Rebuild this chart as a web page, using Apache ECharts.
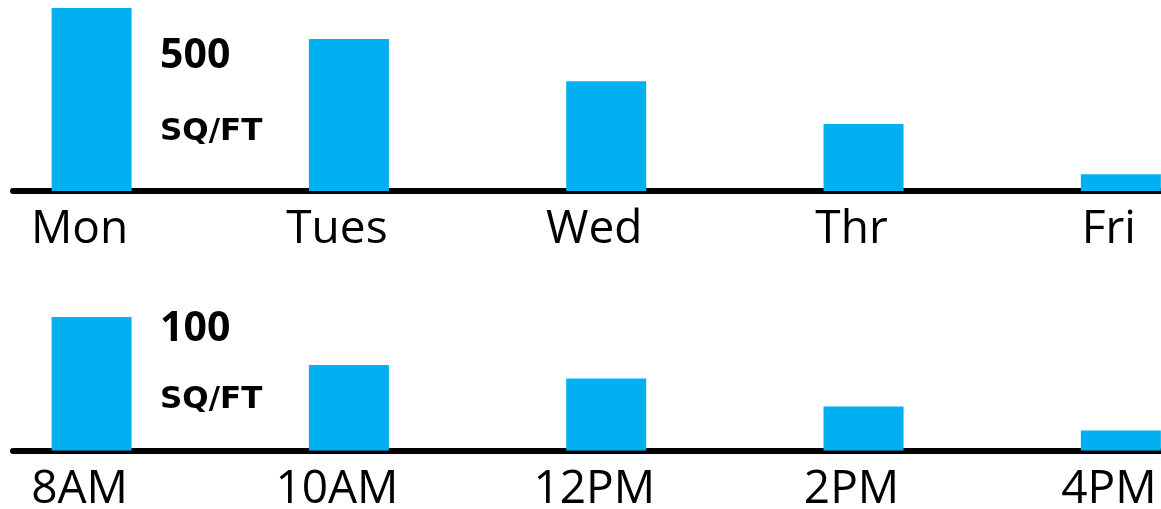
<!DOCTYPE html>
<html>
<head>
<meta charset="utf-8">
<script src="https://cdn.jsdelivr.net/npm/echarts@6/dist/echarts.min.js"></script>
<style>
  html, body { margin: 0; padding: 0; background: #fff; }
  #main { width: 1161px; height: 509px; }
</style>
</head>
<body>
<div id="main"></div>
<script>
// 数据
var days = ['Mon', 'Tues', 'Wed', 'Thr', 'Fri'];
var dayValues = [500, 415, 300, 183, 46];       // 500 SQ/FT
var hours = ['8AM', '10AM', '12PM', '2PM', '4PM'];
var hourValues = [100, 64, 54, 33, 15];          // 100 SQ/FT

var BAR_COLOR = '#00B0F0';
var LABEL_FONT = '"Open Sans", "Liberation Sans", sans-serif';

function toPoints(arr) {
  return arr.map(function (v, i) { return [i, v]; });
}

function xAxisOpt(idx) {
  return {
    gridIndex: idx, type: 'value', min: -0.3055, max: 4.156,
    axisLine: { show: true, onZero: false, lineStyle: { color: '#000', width: 6 } },
    axisTick: { show: false }, axisLabel: { show: false }, splitLine: { show: false }
  };
}

function barSeries(idx, values, names) {
  return {
    type: 'bar', xAxisIndex: idx, yAxisIndex: idx,
    data: toPoints(values), barWidth: 80,
    itemStyle: { color: BAR_COLOR },
    label: {
      show: true, position: 'bottom', distance: 16, offset: [-12, 0],
      formatter: function (p) { return names[p.dataIndex]; },
      color: '#000', fontSize: 46, fontFamily: LABEL_FONT
    },
    silent: true
  };
}

function bigText(left, top, text, size, family) {
  return {
    type: 'text', left: left, top: top,
    style: { text: text, fill: '#000', font: 'bold ' + size + 'px ' + family }
  };
}

var chart = echarts.init(document.getElementById('main'));
chart.setOption({
  animation: false,
  grid: [
    { left: 13, right: 0, top: 8, height: 183 },
    { left: 13, right: 0, top: 317, height: 133.5 }
  ],
  xAxis: [xAxisOpt(0), xAxisOpt(1)],
  yAxis: [
    { gridIndex: 0, type: 'value', min: 0, max: 500, show: false },
    { gridIndex: 1, type: 'value', min: 0, max: 100, show: false }
  ],
  series: [barSeries(0, dayValues, days), barSeries(1, hourValues, hours)],
  graphic: [
    bigText(160, 36, '500', 41, '"Open Sans", sans-serif'),
    bigText(160, 116, 'SQ/FT', 31, '"DejaVu Sans", sans-serif'),
    bigText(160, 309, '100', 41, '"Open Sans", sans-serif'),
    bigText(160, 384, 'SQ/FT', 31, '"DejaVu Sans", sans-serif')
  ]
});
</script>
</body>
</html>
